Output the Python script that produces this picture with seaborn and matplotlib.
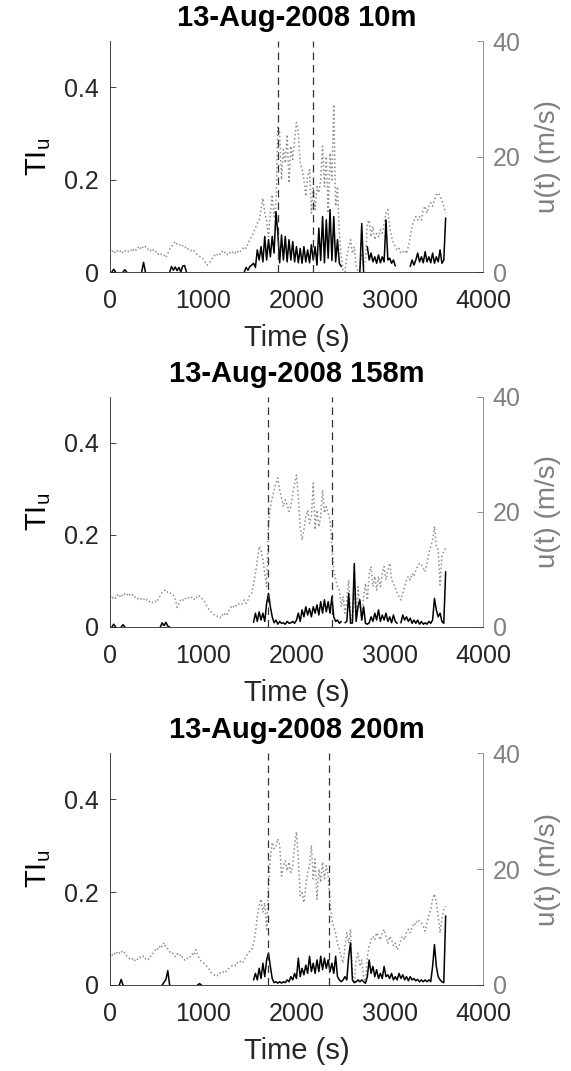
import numpy as np
import pandas as pd
import matplotlib
matplotlib.use('Agg')
import matplotlib.pyplot as plt
import seaborn as sns

nan = np.nan

# sample times (s), one value every 20 s from 0 to 3600
time_s = np.arange(0, 3601, 20)

# ---- 10 m ----
u_10m = [
    3.9, 3.4, 3.8, 3.3, 3.7, 3.4, 3.8, 3.3, 3.7, 3.4,
    3.6, 3.9, 3.5, 4.1, 3.8, 4.3, 3.9, 4.5, 4.1, 4.4,
    3.9, 4.1, 3.6, 3.9, 3.4, 3.6, 3.1, 3.3, 2.8, 2.9,
    2.5, 3.2, 3.9, 4.4, 4.8, 5.3, 4.8, 4.9, 4.4, 4.6,
    4.2, 4.4, 3.9, 3.9, 3.5, 3.7, 3.2, 3.0, 2.8, 2.4,
    2.3, 1.7, 1.2, 1.4, 2.0, 2.4, 2.9, 2.7, 3.3, 3.1,
    3.6, 3.2, 3.5, 3.0, 3.4, 3.1, 3.5, 3.2, 3.7, 3.3,
    3.6, 3.9, 4.4, 4.1, 4.9, 5.6, 6.2, 6.9, 7.6, 8.5,
    9.0, 10.8, 12.8, 10.2, 9.0, 6.1, 10.2, 13.4, 9.6, 11.4,
    25.3, 24.1, 16.0, 21.2, 18.9, 23.8, 15.4, 21.8, 19.5, 23.0,
    25.9, 24.1, 18.9, 17.7, 16.0, 13.1, 16.6, 17.7, 10.2, 14.8,
    10.8, 14.8, 13.7, 16.0, 21.8, 14.8, 20.0, 10.2, 20.6, 16.0,
    29.0, 11.4, 14.8, 6.7, 2.7, 0.3, 0.0, 2.7, 4.4, 5.6,
    3.2, 4.4, 0.9, 0.0, 0.3, 3.2, 0.9, 2.0, 8.5, 9.0,
    6.1, 7.9, 5.6, 6.7, 6.1, 7.3, 6.7, 8.5, 10.2, 10.8,
    7.9, 6.1, 5.0, 4.4, 3.8, 4.1, 3.2, 3.5, 3.8, 3.2,
    4.4, 6.1, 7.9, 9.0, 9.6, 9.0, 9.6, 9.0, 10.8, 11.4,
    10.2, 11.4, 12.0, 11.4, 12.5, 13.4, 13.7, 13.1, 12.5, 11.4,
    10.2,
]
ti_10m = [
    nan, 0.0, 0.006, 0.0, nan, nan, nan, 0.0, 0.005, 0.0,
    nan, nan, nan, nan, nan, nan, nan, 0.0, 0.021, 0.0,
    nan, nan, nan, nan, nan, nan, nan, nan, nan, nan,
    nan, nan, 0.0, 0.012, 0.004, 0.011, 0.003, 0.010, 0.0, 0.013,
    0.014, 0.0, nan, nan, nan, nan, nan, nan, nan, nan,
    nan, nan, nan, nan, nan, nan, nan, nan, nan, nan,
    nan, nan, nan, nan, nan, nan, nan, nan, nan, nan,
    nan, nan, 0.0, 0.010, 0.004, 0.012, 0.015, 0.019, 0.010, 0.048,
    0.026, 0.055, 0.022, 0.077, 0.026, 0.070, 0.033, 0.077, 0.041, 0.131,
    0.084, 0.020, 0.080, 0.026, 0.077, 0.022, 0.070, 0.026, 0.066, 0.022,
    0.055, 0.020, 0.051, 0.019, 0.055, 0.022, 0.048, 0.020, 0.059, 0.026,
    0.055, 0.015, 0.095, 0.025, 0.120, 0.020, 0.113, 0.030, 0.135, 0.025,
    0.120, 0.022, 0.070, 0.019, 0.012, nan, nan, nan, nan, nan,
    nan, nan, nan, nan, 0.0, 0.105, 0.0, nan, 0.055, 0.026,
    0.041, 0.022, 0.033, 0.019, 0.037, 0.020, 0.033, 0.022, 0.113, 0.026,
    0.030, 0.019, 0.026, 0.013, nan, nan, nan, nan, nan, nan,
    nan, 0.012, 0.026, 0.015, 0.026, 0.041, 0.022, 0.033, 0.020, 0.044,
    0.022, 0.033, 0.020, 0.041, 0.019, 0.033, 0.022, 0.048, 0.019, 0.026,
    0.117,
]

# ---- 158 m ----
u_158m = [
    5.4, 4.9, 5.3, 5.0, 5.6, 5.2, 5.7, 5.3, 5.8, 5.5,
    5.9, 5.4, 5.6, 5.1, 5.3, 4.9, 5.1, 4.7, 4.9, 4.5,
    4.8, 4.4, 4.6, 4.2, 4.5, 4.3, 4.9, 5.5, 6.0, 6.3,
    6.5, 6.0, 6.1, 5.6, 5.5, 4.9, 3.4, 4.2, 4.8, 4.6,
    5.1, 4.8, 5.1, 4.9, 5.2, 4.8, 5.3, 5.0, 5.4, 5.0,
    4.7, 4.3, 3.6, 3.1, 2.7, 2.3, 2.1, 1.8, 1.9, 1.6,
    2.2, 1.9, 2.5, 2.2, 3.0, 3.5, 3.3, 3.9, 3.6, 4.0,
    3.8, 4.1, 4.7, 4.1, 4.7, 5.6, 5.9, 7.6, 9.3, 11.7,
    14.0, 13.4, 11.7, 9.3, 7.0, 18.0, 20.9, 22.4, 23.8, 25.0,
    25.9, 23.8, 22.4, 20.9, 22.1, 21.2, 20.1, 20.9, 23.2, 25.0,
    26.4, 22.7, 17.4, 15.1, 16.9, 19.2, 20.3, 18.0, 19.2, 25.0,
    16.9, 20.3, 17.4, 19.2, 23.8, 19.8, 20.9, 19.8, 18.5, 14.0,
    9.9, 8.2, 7.0, 6.4, 3.5, 5.3, 2.4, 4.7, 8.2, 2.4,
    0.6, 5.9, 1.8, 7.0, 3.5, 1.2, 5.3, 7.6, 4.7, 9.3,
    10.5, 7.0, 8.8, 6.4, 8.8, 7.0, 9.3, 10.5, 8.2, 9.9,
    11.1, 8.2, 7.6, 6.7, 5.9, 5.3, 4.7, 5.9, 7.0, 8.2,
    8.8, 8.2, 9.3, 8.8, 9.9, 10.5, 11.1, 10.8, 10.2, 9.6,
    11.1, 12.8, 14.0, 15.1, 17.5, 14.0, 13.4, 7.3, 12.2, 13.1,
    13.7,
]
ti_158m = [
    nan, 0.0, 0.006, 0.0, nan, nan, 0.0, 0.005, 0.0, nan,
    nan, nan, nan, nan, nan, nan, nan, nan, nan, nan,
    nan, nan, nan, nan, nan, nan, nan, 0.0, 0.009, 0.003,
    0.010, 0.002, 0.0, nan, nan, nan, nan, nan, nan, nan,
    nan, nan, nan, nan, nan, nan, nan, nan, nan, nan,
    nan, nan, nan, nan, nan, nan, nan, nan, nan, nan,
    nan, nan, nan, nan, nan, nan, nan, nan, nan, nan,
    nan, nan, nan, nan, nan, nan, nan, 0.010, 0.030, 0.012,
    0.033, 0.015, 0.030, 0.012, 0.051, 0.073, 0.044, 0.022, 0.009, 0.015,
    0.006, 0.012, 0.008, 0.009, 0.006, 0.012, 0.008, 0.009, 0.012, 0.008,
    0.015, 0.030, 0.012, 0.037, 0.022, 0.044, 0.026, 0.040, 0.022, 0.044,
    0.030, 0.048, 0.026, 0.055, 0.030, 0.059, 0.033, 0.055, 0.030, 0.066,
    0.022, 0.012, 0.015, 0.008, 0.012, nan, 0.009, 0.012, 0.073, 0.008,
    0.009, 0.138, 0.012, 0.044, 0.059, 0.015, 0.044, 0.008, 0.006, 0.009,
    0.022, 0.012, 0.030, 0.015, 0.037, 0.012, 0.026, 0.015, 0.030, 0.012,
    0.022, 0.009, 0.026, 0.012, 0.008, nan, 0.009, 0.026, 0.015, 0.022,
    0.012, 0.019, 0.008, 0.015, 0.008, 0.015, 0.006, 0.012, 0.006, 0.009,
    0.006, 0.012, 0.008, 0.015, 0.062, 0.037, 0.022, 0.030, 0.012, 0.008,
    0.120,
]

# ---- 200 m ----
u_200m = [
    5.3, 4.9, 5.6, 5.2, 5.8, 5.5, 5.9, 5.4, 5.6, 5.0,
    4.7, 4.3, 4.5, 4.1, 4.6, 4.4, 4.8, 4.6, 5.0, 4.5,
    4.7, 4.4, 5.1, 5.4, 5.8, 6.4, 6.1, 6.9, 6.6, 7.3,
    6.4, 6.2, 5.7, 5.8, 5.2, 4.9, 5.4, 5.0, 5.3, 4.7,
    4.3, 4.7, 4.5, 4.9, 5.4, 5.1, 6.1, 5.2, 4.5, 4.0,
    3.8, 3.5, 3.2, 2.8, 2.2, 2.0, 1.7, 1.9, 1.6, 2.1,
    2.0, 2.4, 2.2, 2.7, 2.9, 3.2, 3.4, 3.3, 3.9, 3.7,
    4.1, 3.8, 4.3, 4.9, 5.5, 5.8, 6.1, 7.2, 9.0, 11.9,
    13.6, 14.8, 12.5, 14.2, 9.6, 17.1, 21.7, 24.6, 23.5, 23.8,
    25.2, 24.1, 18.8, 20.6, 21.4, 19.7, 21.2, 19.4, 20.6, 24.1,
    26.4, 21.7, 15.4, 15.9, 14.2, 17.1, 19.4, 20.6, 24.1, 18.3,
    21.7, 14.8, 20.0, 17.7, 21.2, 18.3, 20.6, 18.8, 14.2, 11.3,
    10.1, 9.0, 7.2, 6.1, 4.9, 3.8, 6.7, 9.0, 7.2, 9.6,
    2.0, 0.3, 4.3, 5.5, 3.2, 4.3, 1.4, 0.3, 4.9, 6.7,
    7.8, 8.4, 7.8, 9.0, 8.4, 7.8, 9.0, 9.6, 8.4, 7.2,
    8.4, 7.8, 6.7, 7.2, 6.1, 6.7, 7.8, 8.4, 7.8, 9.0,
    9.6, 9.0, 9.9, 10.7, 10.4, 11.3, 11.0, 10.7, 10.1, 9.3,
    10.7, 11.9, 13.0, 14.8, 15.7, 14.2, 11.9, 9.0, 11.3, 13.0,
    13.6,
]
ti_200m = [
    nan, nan, nan, nan, nan, 0.0, 0.012, 0.0, nan, nan,
    nan, nan, nan, nan, nan, nan, nan, nan, nan, nan,
    nan, nan, nan, nan, nan, nan, nan, nan, 0.0, 0.006,
    0.012, 0.031, 0.0, nan, nan, nan, nan, nan, nan, nan,
    nan, nan, nan, nan, nan, nan, nan, 0.0, 0.003, 0.0,
    nan, nan, nan, nan, nan, nan, nan, nan, nan, nan,
    nan, nan, nan, nan, nan, nan, nan, nan, nan, nan,
    nan, nan, nan, nan, nan, nan, nan, 0.011, 0.025, 0.011,
    0.036, 0.014, 0.047, 0.018, 0.054, 0.069, 0.040, 0.014, 0.005, 0.007,
    0.004, 0.007, 0.004, 0.007, 0.005, 0.011, 0.007, 0.018, 0.011, 0.025,
    0.014, 0.058, 0.018, 0.036, 0.022, 0.043, 0.025, 0.062, 0.029, 0.047,
    0.025, 0.054, 0.029, 0.062, 0.033, 0.058, 0.036, 0.054, 0.029, 0.047,
    0.025, 0.062, 0.018, 0.011, 0.007, 0.011, 0.018, 0.011, 0.062, 0.091,
    0.011, 0.005, 0.007, 0.011, 0.007, 0.011, 0.007, 0.004, 0.018, 0.054,
    0.025, 0.040, 0.018, 0.033, 0.014, 0.025, 0.014, 0.040, 0.018, 0.022,
    0.014, 0.025, 0.011, 0.018, 0.011, 0.025, 0.014, 0.022, 0.011, 0.018,
    0.009, 0.018, 0.011, 0.014, 0.009, 0.012, 0.007, 0.011, 0.007, 0.011,
    0.007, 0.011, 0.007, 0.040, 0.087, 0.040, 0.018, 0.011, 0.007, 0.005,
    0.149,
]

titles = ['13-Aug-2008 10m', '13-Aug-2008 158m', '13-Aug-2008 200m']
u_series = [u_10m, u_158m, u_200m]
ti_series = [ti_10m, ti_158m, ti_200m]
event_lines = [[1798, 2180], [1698, 2384], [1698, 2352]]

x_ticks = [0, 1000, 2000, 3000, 4000]
ti_ticks = [0, 0.2, 0.4]
ti_ticklabels = ['0', '0.2', '0.4']
u_ticks = [0, 20, 40]

sns.set_theme(style='white')
plt.rcParams['font.family'] = ['Liberation Sans', 'DejaVu Sans']
plt.rcParams['mathtext.default'] = 'regular'

dark = '#262626'
gray = '#808080'

fig = plt.figure(figsize=(5.71, 10.71), dpi=100)
# axes rectangles in figure fractions (left, bottom, width, height)
rects = [
    (0.1926, 0.746, 0.6532, 0.2157),
    (0.1926, 0.4146, 0.6532, 0.2148),
    (0.1926, 0.0803, 0.6532, 0.2166),
]

for rect, title, u, ti, events in zip(rects, titles, u_series, ti_series, event_lines):
    ax = fig.add_axes(rect)
    ax2 = ax.twinx()

    df = pd.DataFrame({'t': time_s, 'u': u, 'ti': ti})
    df['seg'] = df['ti'].isna().cumsum()

    sns.lineplot(data=df, x='t', y='u', ax=ax2, estimator=None,
                 color='#8f8f8f', linestyle=':', linewidth=1.1)
    sns.lineplot(data=df.dropna(subset=['ti']), x='t', y='ti', units='seg',
                 estimator=None, ax=ax, color='black', linewidth=1.1)
    for ev in events:
        ax.axvline(ev, color='#333333', linestyle=(0, (6, 4)), linewidth=0.9)

    ax.set_zorder(ax2.get_zorder() + 1)
    ax.patch.set_visible(False)

    ax.set_xlim(0, 4000)
    ax.set_ylim(0, 0.5)
    ax2.set_ylim(0, 40)
    ax.set_xticks(x_ticks)
    ax.set_yticks(ti_ticks)
    ax.set_yticklabels(ti_ticklabels)
    ax2.set_yticks(u_ticks)

    for side in ['top', 'right']:
        ax.spines[side].set_visible(False)
    for side in ['top', 'left', 'bottom']:
        ax2.spines[side].set_visible(False)
    ax.spines['left'].set_color(dark)
    ax.spines['bottom'].set_color(dark)
    ax2.spines['right'].set_color(gray)
    for sp in list(ax.spines.values()) + list(ax2.spines.values()):
        sp.set_linewidth(0.6)

    ax.tick_params(axis='x', direction='in', length=4, width=0.6, colors=dark,
                   labelsize=18, pad=12, top=False)
    ax.tick_params(axis='y', direction='in', length=4, width=0.6, colors=dark,
                   labelsize=18, pad=8, right=False)
    ax2.tick_params(axis='y', direction='in', length=4, width=0.6, colors=gray,
                    labelsize=18, pad=7)

    ax.set_xlabel('Time (s)', fontsize=21, color=dark, labelpad=8)
    ax.set_ylabel('$TI_u$', fontsize=21, color='black', labelpad=8)
    ax2.set_ylabel('u(t) (m/s)', fontsize=20, color=gray, labelpad=10)
    ax.set_title(title, fontsize=21, fontweight='bold', color='black', pad=11)

fig.savefig('out.png', dpi=100, facecolor='white')
